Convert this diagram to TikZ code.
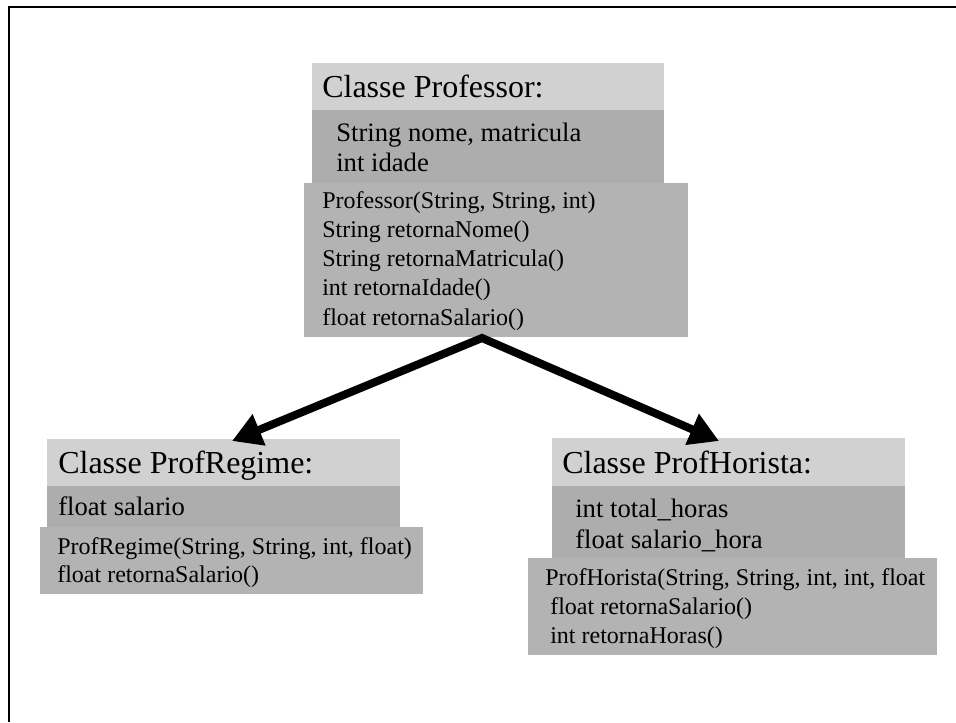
\documentclass[tikz,border=0pt]{standalone}
\usepackage{fontspec}
\setmainfont{Liberation Serif}
\usetikzlibrary{arrows.meta}
\definecolor{hdr}{HTML}{D1D1D1}
\definecolor{attr}{HTML}{ADADAD}
\definecolor{meth}{HTML}{B3B3B3}
\tikzset{
  hdrbox/.style={fill=hdr,draw=none},
  attrbox/.style={fill=attr,draw=none},
  methbox/.style={fill=meth,draw=none},
  txt/.style={anchor=base west,inner sep=0pt,text=black},
  hfont/.style={txt,font=\fontsize{24pt}{28pt}\selectfont},
  afont/.style={txt,font=\fontsize{20pt}{24pt}\selectfont},
  mfont/.style={txt,font=\fontsize{18pt}{21pt}\selectfont},
  inherit/.style={line width=6pt,line join=miter,{Triangle[width=24pt,length=22pt]}-{Triangle[width=24pt,length=22pt]}}
}
\begin{document}
\begin{tikzpicture}[x=0.75pt,y=-0.75pt]
\useasboundingbox (0,0) rectangle (956,722);
% frame
\draw[line width=1.9pt] (956,7) -- (9,7) -- (9,722);
% Professor
\path[hdrbox] (312,63) rectangle (664,110);
\path[attrbox] (312,110) rectangle (664,183);
\path[methbox] (304,183) rectangle (688,337);
\node[hfont] (p0) at (322,97.5) {Classe Professor:};
\node[afont] (p1) at (336,141.7) {String nome, matricula};
\node[afont] (p2) at (336,171.7) {int idade};
\node[mfont] (p3) at (322,208) {Professor(String, String, int)};
\node[mfont] (p4) at (322,237.3) {String retornaNome()};
\node[mfont] (p5) at (322,266.5) {String retornaMatricula()};
\node[mfont] (p6) at (322,295.8) {int retornaIdade()};
\node[mfont] (p7) at (322,325) {float retornaSalario()};
% ProfRegime
\path[hdrbox] (47,439) rectangle (400,486);
\path[attrbox] (47,486) rectangle (400,527);
\path[methbox] (40,527) rectangle (423,594);
\node[hfont] (r0) at (58,473) {Classe ProfRegime:};
\node[afont] (r1) at (58,515) {float salario};
\node[mfont] (r2) at (57,554) {ProfRegime(String, String, int, float)};
\node[mfont] (r3) at (57,582.5) {float retornaSalario()};
% ProfHorista
\path[hdrbox] (552,438) rectangle (905,486);
\path[attrbox] (552,486) rectangle (905,558);
\path[methbox] (528,558) rectangle (937,655);
\node[hfont] (h0) at (562,473) {Classe ProfHorista:};
\node[afont] (h1) at (575,517) {int total\_horas};
\node[afont] (h2) at (575,548) {float salario\_hora};
\node[mfont] (h3) at (545,585) {ProfHorista(String, String, int, int, float};
\node[mfont] (h4) at (550,614.5) {float retornaSalario()};
\node[mfont] (h5) at (550,643) {int retornaHoras()};
% arrows
\coordinate (apex) at (482,338);
\coordinate (tipL) at (232,441);
\coordinate (tipR) at (719,441);
\draw[inherit] (tipL) -- (apex) -- (tipR);
\end{tikzpicture}
\end{document}
